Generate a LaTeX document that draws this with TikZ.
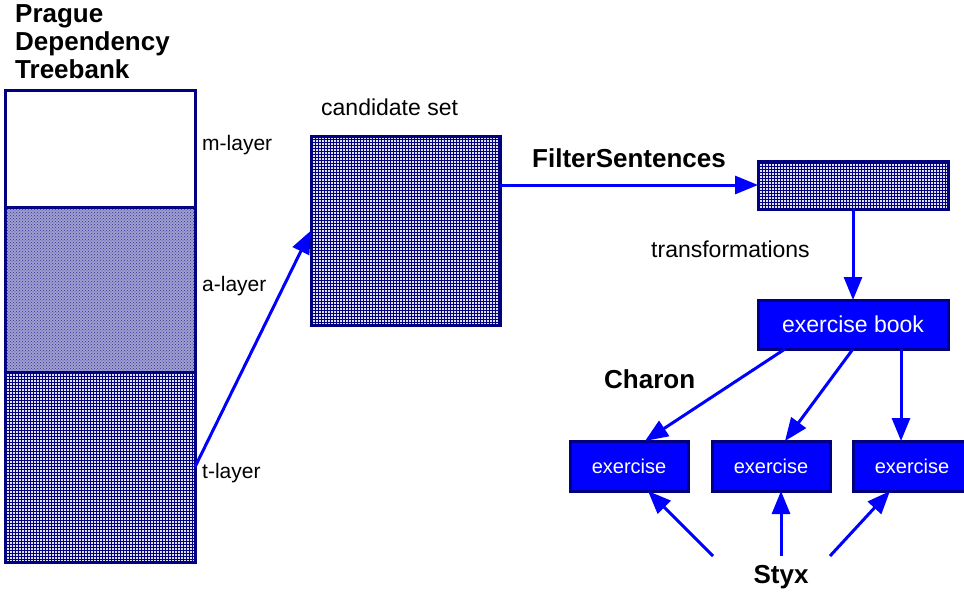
\documentclass[tikz,border=0pt]{standalone}
\usepackage{fontspec}
\setmainfont{Liberation Sans}
\usetikzlibrary{patterns,arrows.meta,calc}
\definecolor{navy}{RGB}{0,0,128}
\tikzset{
  layerbox/.style={draw=navy, line width=3pt, rectangle, inner sep=0pt, outer sep=0pt, minimum width=190pt},
  gridbox/.style={layerbox, fill=navy!12, postaction={pattern=grid, pattern color=navy}},
  dotbox/.style={layerbox, fill=navy!38, postaction={pattern=crosshatch dots, pattern color=navy!80}},
  bluebox/.style={draw=navy, line width=3pt, fill=blue, text=white, rectangle, inner sep=0pt, outer sep=0pt, font=\fontsize{23}{26}\selectfont},
  exbox/.style={bluebox, minimum width=118pt, minimum height=50pt, font=\fontsize{20}{24}\selectfont},
  arr/.style={draw=blue, line width=3pt, -{Triangle[length=23pt,width=18pt]}},
  boldlbl/.style={font=\bfseries\fontsize{26}{28}\selectfont, inner sep=0pt},
  lbl/.style={font=\fontsize{23}{26}\selectfont, inner sep=0pt},
  laylbl/.style={font=\fontsize{21}{24}\selectfont, inner sep=0pt, anchor=west},
}
\begin{document}
\begin{tikzpicture}[x=1pt,y=-1pt]
\useasboundingbox (0,0) rectangle (964,592);
% PDT layers
\node[layerbox, fill=white, minimum height=117pt] (m) at (100,148.5) {};
\node[dotbox, minimum height=165pt] (a) at (100,289.5) {};
\node[gridbox, minimum height=190pt] (t) at (100,467) {};
\node[boldlbl, anchor=north west, align=left] (pdt) at (15,4) {Prague\\Dependency\\Treebank};
\node[laylbl] (ml) at (202,145) {m-layer};
\node[laylbl] (al) at (202,286) {a-layer};
\node[laylbl] (tl) at (202,473) {t-layer};
% candidate set
\node[gridbox, minimum width=189pt, minimum height=189pt] (cand) at (405.5,230.5) {};
\node[lbl, anchor=west] (candl) at (321,107) {candidate set};
% filter
\node[gridbox, minimum width=190pt, minimum height=48pt] (filt) at (853,185) {};
\node[boldlbl, anchor=west] (filtl) at (532,158) {FilterSentences};
\node[lbl, anchor=west] (trl) at (651,249) {transformations};
% exercise book
\node[bluebox, minimum width=190pt, minimum height=49pt] (book) at (853,324.5) {exercise book};
\node[boldlbl, anchor=west] (charon) at (604,379) {Charon};
% exercises
\node[exbox] (ex1) at (629,466) {exercise};
\node[exbox] (ex2) at (771,466) {exercise};
\node[exbox] (ex3) at (912,466) {exercise};
% Styx
\node[boldlbl] (styx) at (781,577) {Styx};
\coordinate (s1) at (713,556);
\coordinate (s2) at (781,556);
\coordinate (s3) at (830,556);
% arrows
\draw[arr] (t.east) -- (cand.west);
\draw[arr] (cand.east |- filt.west) -- (filt.west);
\draw[arr] (filt.south) -- (book.north);
\draw[arr] ([xshift=-68pt]book.south) -- ([xshift=16pt]ex1.north);
\draw[arr] (book.south) -- ([xshift=14pt]ex2.north);
\draw[arr] ([xshift=48pt]book.south) -- ([xshift=48pt]book.south |- ex3.north);
\draw[arr] (s1) -- ([xshift=19pt]ex1.south);
\draw[arr] (s2) -- ([xshift=10pt]ex2.south);
\draw[arr] (s3) -- ([xshift=-22pt]ex3.south);
\end{tikzpicture}
\end{document}
